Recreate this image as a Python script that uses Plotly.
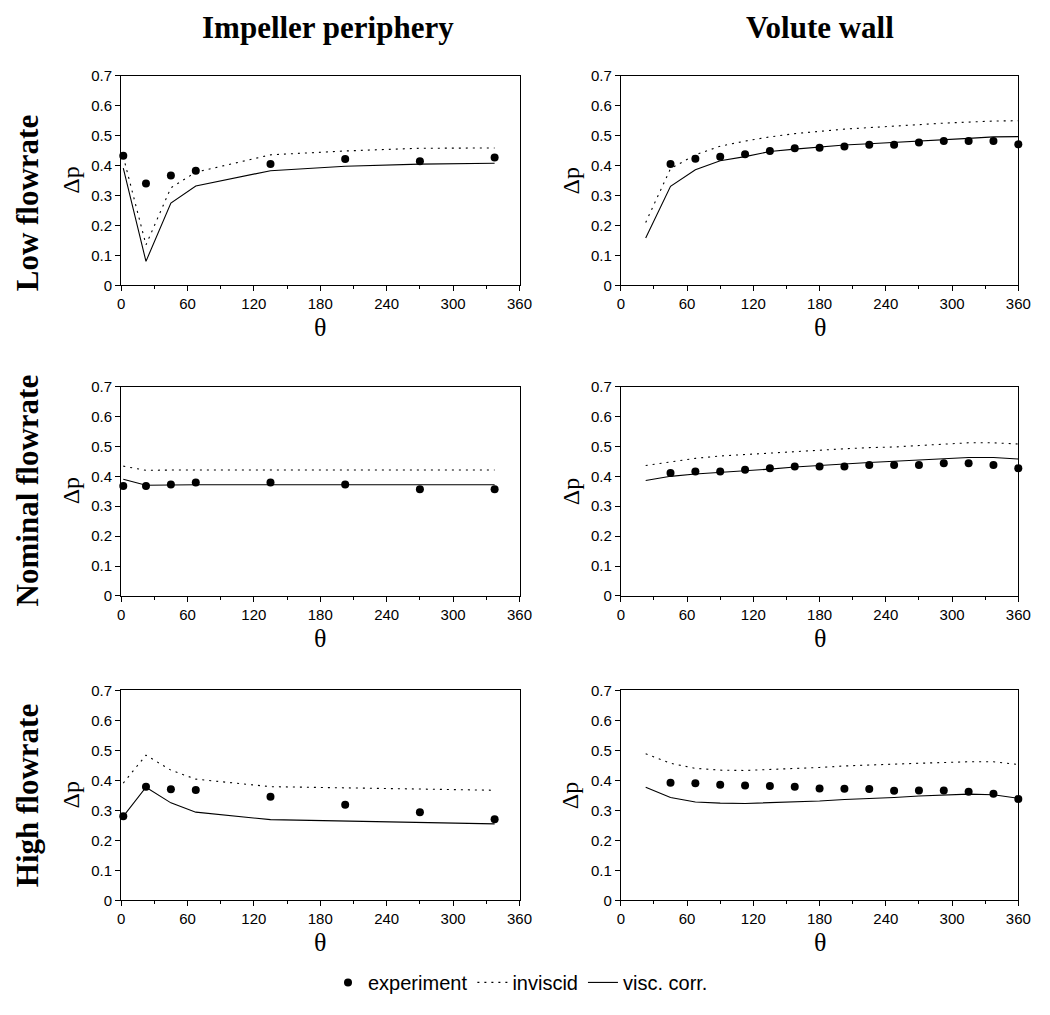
import plotly.graph_objects as go
from plotly.subplots import make_subplots

# ---------------- data ----------------
# Impeller periphery angles (deg)
theta_imp = [2, 22.5, 45, 67.5, 135, 202.5, 270, 337.5]
# Volute wall angles (deg)
theta_vol_exp = [45, 67.5, 90, 112.5, 135, 157.5, 180, 202.5, 225, 247.5, 270, 292.5, 315, 337.5, 360]
theta_vol_line = [22.5, 45, 67.5, 90, 112.5, 135, 157.5, 180, 202.5, 225, 247.5, 270, 292.5, 315, 337.5, 360]

# Low flowrate - impeller periphery
low_imp_exp = [0.433, 0.340, 0.367, 0.383, 0.405, 0.422, 0.415, 0.427]
low_imp_inv = [0.430, 0.135, 0.326, 0.378, 0.436, 0.449, 0.458, 0.459]
low_imp_visc = [0.392, 0.080, 0.275, 0.332, 0.383, 0.398, 0.405, 0.408]

# Low flowrate - volute wall
low_vol_exp = [0.405, 0.423, 0.430, 0.438, 0.449, 0.458, 0.460, 0.464, 0.470, 0.470, 0.477, 0.482, 0.482, 0.482, 0.471]
low_vol_inv = [0.210, 0.390, 0.436, 0.465, 0.482, 0.496, 0.507, 0.515, 0.522, 0.527, 0.531, 0.537, 0.542, 0.546, 0.549, 0.550]
low_vol_visc = [0.158, 0.331, 0.386, 0.416, 0.430, 0.447, 0.455, 0.463, 0.469, 0.473, 0.477, 0.482, 0.485, 0.491, 0.496, 0.497]

# Nominal flowrate - impeller periphery
nom_imp_exp = [0.368, 0.368, 0.373, 0.379, 0.379, 0.373, 0.357, 0.357]
nom_imp_inv = [0.434, 0.420, 0.421, 0.421, 0.421, 0.421, 0.421, 0.421]
nom_imp_visc = [0.390, 0.370, 0.371, 0.372, 0.372, 0.372, 0.372, 0.372]

# Nominal flowrate - volute wall
nom_vol_exp = [0.411, 0.416, 0.416, 0.422, 0.427, 0.433, 0.433, 0.433, 0.438, 0.438, 0.438, 0.444, 0.444, 0.438, 0.427]
nom_vol_inv = [0.436, 0.449, 0.460, 0.468, 0.473, 0.479, 0.484, 0.487, 0.492, 0.496, 0.498, 0.503, 0.507, 0.512, 0.512, 0.508]
nom_vol_visc = [0.386, 0.400, 0.408, 0.413, 0.419, 0.424, 0.431, 0.435, 0.441, 0.446, 0.450, 0.455, 0.460, 0.463, 0.463, 0.458]

# High flowrate - impeller periphery
high_imp_exp = [0.280, 0.379, 0.370, 0.368, 0.345, 0.319, 0.294, 0.270]
high_imp_inv = [0.391, 0.484, 0.434, 0.404, 0.379, 0.374, 0.371, 0.367]
high_imp_visc = [0.280, 0.377, 0.325, 0.294, 0.269, 0.264, 0.259, 0.255]

# High flowrate - volute wall
high_vol_exp = [0.392, 0.390, 0.385, 0.383, 0.381, 0.379, 0.373, 0.372, 0.371, 0.365, 0.366, 0.366, 0.362, 0.355, 0.338]
high_vol_inv = [0.489, 0.457, 0.440, 0.434, 0.433, 0.436, 0.439, 0.443, 0.448, 0.452, 0.454, 0.457, 0.460, 0.462, 0.462, 0.453]
high_vol_visc = [0.377, 0.343, 0.328, 0.324, 0.323, 0.325, 0.328, 0.331, 0.336, 0.339, 0.343, 0.348, 0.352, 0.354, 0.352, 0.340]

col_titles = ["Impeller periphery", "Volute wall"]
row_titles = ["Low flowrate", "Nominal flowrate", "High flowrate"]
series_names = ["experiment", "inviscid", "visc. corr."]
x_ticks = [0, 60, 120, 180, 240, 300, 360]
y_ticks = [0, 0.1, 0.2, 0.3, 0.4, 0.5, 0.6, 0.7]
y_ticklabels = ["0", "0.1", "0.2", "0.3", "0.4", "0.5", "0.6", "0.7"]

panels = [
    [(theta_imp, low_imp_exp, theta_imp, low_imp_inv, low_imp_visc),
     (theta_vol_exp, low_vol_exp, theta_vol_line, low_vol_inv, low_vol_visc)],
    [(theta_imp, nom_imp_exp, theta_imp, nom_imp_inv, nom_imp_visc),
     (theta_vol_exp, nom_vol_exp, theta_vol_line, nom_vol_inv, nom_vol_visc)],
    [(theta_imp, high_imp_exp, theta_imp, high_imp_inv, high_imp_visc),
     (theta_vol_exp, high_vol_exp, theta_vol_line, high_vol_inv, high_vol_visc)],
]

# ---------------- figure ----------------
W, H = 1050, 1015
fig = make_subplots(rows=3, cols=2)

x_dom_px = [(119, 524), (627, 1031)]
y_dom_px = [(68, 281), (384, 597), (693, 906.5)]

SANS = "Liberation Sans, Arial, sans-serif"
SERIF = "Liberation Serif, Times New Roman, serif"

first = True
for r in range(3):
    for c in range(2):
        tx_e, ye, tx_l, yi, yv = panels[r][c]
        fig.add_trace(go.Scatter(x=tx_l, y=yi, mode="lines", name=series_names[1],
                                 line=dict(color="black", width=1.1, dash="2px,5px"),
                                 showlegend=first, legendrank=2), row=r + 1, col=c + 1)
        fig.add_trace(go.Scatter(x=tx_l, y=yv, mode="lines", name=series_names[2],
                                 line=dict(color="black", width=1.1),
                                 showlegend=first, legendrank=3), row=r + 1, col=c + 1)
        fig.add_trace(go.Scatter(x=tx_e, y=ye, mode="markers", name=series_names[0],
                                 marker=dict(color="black", size=8, symbol="circle"),
                                 cliponaxis=False, showlegend=first, legendrank=1),
                      row=r + 1, col=c + 1)
        first = False

        idx = r * 2 + c + 1
        xa = "xaxis" if idx == 1 else f"xaxis{idx}"
        ya = "yaxis" if idx == 1 else f"yaxis{idx}"
        x0, x1 = x_dom_px[c]
        y0, y1 = y_dom_px[r]
        fig.layout[xa].update(
            domain=[x0 / W, x1 / W], range=[0, 360], tickvals=x_ticks,
            ticktext=[str(v) for v in x_ticks],
            showline=True, mirror=True, linecolor="black", linewidth=1,
            ticks="outside", ticklen=5, tickcolor="black", tickwidth=1,
            minor=dict(dtick=30, tick0=0, ticks="outside", ticklen=3, tickcolor="black"),
            showgrid=False, zeroline=False,
            tickfont=dict(family=SANS, size=15, color="black"),
        )
        fig.layout[ya].update(
            domain=[1 - y1 / H, 1 - y0 / H], range=[0, 0.7], tickvals=y_ticks,
            ticktext=y_ticklabels,
            showline=True, mirror=True, linecolor="black", linewidth=1,
            ticks="outside", ticklen=5, tickcolor="black", tickwidth=1,
            showgrid=False, zeroline=False,
            tickfont=dict(family=SANS, size=15, color="black"),
        )
        xref = "x domain" if idx == 1 else f"x{idx} domain"
        yref = "y domain" if idx == 1 else f"y{idx} domain"
        fig.add_annotation(text="θ", xref=xref, yref=yref, x=0.5, y=0,
                           xanchor="center", yanchor="middle", yshift=-42,
                           showarrow=False, font=dict(family=SERIF, size=26, color="black"))
        fig.add_annotation(text="Δp", xref=xref, yref=yref, x=0, y=0.5,
                           xanchor="center", yanchor="middle", xshift=-50, textangle=-90,
                           showarrow=False, font=dict(family=SERIF, size=24, color="black"))

# column titles
for c, t in enumerate(col_titles):
    xc = (x_dom_px[c][0] + x_dom_px[c][1]) / 2 / W
    fig.add_annotation(text=f"<b>{t}</b>", xref="paper", yref="paper",
                       x=xc + (8 / W if c == 0 else 0), y=1 - 19 / H, xanchor="center", yanchor="middle",
                       showarrow=False, font=dict(family=SERIF, size=31, color="black"))

# row titles
row_centers = [198, 490, 800]
for r, t in enumerate(row_titles):
    fig.add_annotation(text=f"<b>{t}</b>", xref="paper", yref="paper",
                       x=24 / W, y=1 - row_centers[r] / H, xanchor="center", yanchor="middle",
                       textangle=-90, showarrow=False,
                       font=dict(family=SERIF, size=31, color="black"))

fig.update_layout(
    width=W, height=H,
    margin=dict(l=0, r=0, t=0, b=0),
    paper_bgcolor="white", plot_bgcolor="white",
    showlegend=True,
    legend=dict(orientation="h", x=0.5, xanchor="center", y=1 - 990 / H, yanchor="middle",
                font=dict(family=SANS, size=20, color="black"),
                bgcolor="rgba(0,0,0,0)", itemwidth=30, traceorder="normal"),
)

fig.write_html("out.html", config={"displayModeBar": False},
               post_script="document.body.style.margin='0';document.body.style.overflow='hidden';")
